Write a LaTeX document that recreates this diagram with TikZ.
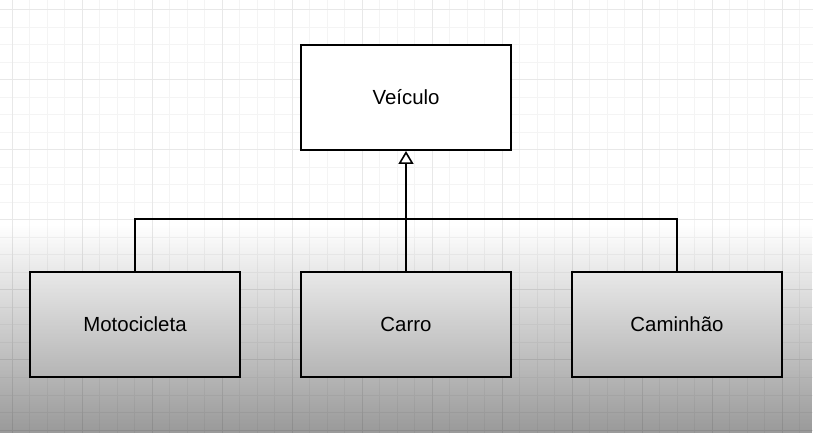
\documentclass[tikz,border=0pt]{standalone}
\usepackage{fontspec}
\setmainfont{Liberation Sans}
\usetikzlibrary{arrows.meta,fadings}
\definecolor{minorgrid}{gray}{0.955}
\definecolor{majorgrid}{gray}{0.91}
\begin{document}
\begin{tikzpicture}[x=1bp,y=-1bp,
  classbox/.style={draw=black,line width=2bp,fill=white,minimum width=210bp,minimum height=105bp,inner sep=0pt,font=\fontsize{20.5}{24}\selectfont},
  link/.style={draw=black,line width=2bp},
  inherit/.style={link,-{Triangle[open,fill=white,length=13bp,width=15bp,line width=1.6bp]}}]
\useasboundingbox (0,0) rectangle (813,433);
\fill[white] (0,0) rectangle (813,433);
% minor grid
\foreach \i in {0,...,46} {
  \draw[minorgrid,line width=1bp] ({12+17.5*\i-17.5},0) -- ({12+17.5*\i-17.5},433);
}
\foreach \j in {0,...,25} {
  \draw[minorgrid,line width=1bp] (0,{10+17.5*\j-17.5}) -- (813,{10+17.5*\j-17.5});
}
% major grid
\foreach \i in {0,...,11} {
  \draw[majorgrid,line width=1bp] ({12+70*\i},0) -- ({12+70*\i},433);
}
\foreach \j in {0,...,6} {
  \draw[majorgrid,line width=1bp] (0,{10+70*\j}) -- (813,{10+70*\j});
}
% nodes
\node[classbox] (veiculo) at (406,97.5) {Veículo};
\node[classbox] (moto) at (135,324.5) {Motocicleta};
\node[classbox] (carro) at (406,324.5) {Carro};
\node[classbox] (caminhao) at (677,324.5) {Caminhão};
\coordinate (bar) at (406,219);
% connectors
\draw[link] (moto.north) |- (bar) -| (caminhao.north);
\draw[inherit] (carro.north) -- (veiculo.south);
% gradient overlay
\fill[black,opacity=0.4,path fading=north] (0,225) rectangle (813,433);
\end{tikzpicture}
\end{document}
